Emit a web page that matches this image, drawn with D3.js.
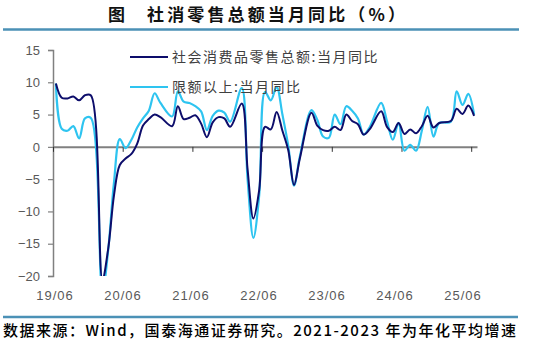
<!DOCTYPE html>
<html><head><meta charset="utf-8">
<script src="https://cdn.jsdelivr.net/npm/d3@7"></script>
<style>body{margin:0;background:#fff}svg{display:block}</style>
</head><body><svg id="c" width="535" height="348"></svg>
<script>
const months = [];
for (let y = 2019, m = 6; months.length < 73; ) { months.push(y + "-" + String(m).padStart(2, "0")); m++; if (m > 12) { m = 1; y++; } }
const seriesNames = ["社会消费品零售总额:当月同比", "限额以上:当月同比"];
const retailTotal = [
  9.8, 7.6, 7.5, 7.8, 7.2, 8.0, 8.0,
  null, -20.5, -15.8, -7.5, -2.8, -1.8, -1.1, 0.5, 3.3, 4.3, 5.0, 4.6,
  null, 3.2, 6.3, 4.3, 4.5, 4.9, 3.6, 1.5, 3.8, 4.6, 4.4, 3.1,
  null, 6.7, -3.5, -11.1, -6.7, 3.1, 2.7, 5.4, 2.5, -0.5, -5.9, -1.8,
  null, 5.3, 3.3, 2.6, 2.5, 3.1, 2.6, 5.0, 4.0, 3.5, 1.9, 2.7,
  null, 5.5, 3.1, 2.3, 3.7, 2.0, 2.7, 2.1, 3.2, 4.8, 3.0, 3.7,
  null, 4.0, 5.9, 5.1, 6.4, 4.8
];
const aboveLimit = [
  9.8, 2.8, 2.5, 3.2, 1.3, 4.4, 4.5,
  null, -22.5, -16.0, -5.5, 1.2, -0.2, 1.1, 3.0, 4.4, 5.6, 8.3, 6.8,
  null, 4.7, 8.6, 7.0, 6.8, 6.3, 5.5, 2.6, 4.8, 5.6, 5.3, 3.9,
  null, 9.1, -5.0, -14.1, -7.5, 8.5, 7.2, 9.3, 5.0, 0.2, -6.0, -1.5,
  null, 5.7, 4.2, 1.6, 1.4, 5.0, 3.5, 6.3, 5.6, 4.4, 1.9, 3.0,
  null, 6.8, 4.0, 1.1, 3.7, -0.6, 0.3, -0.6, 2.5, 6.2, 1.6, 3.7,
  null, 3.9, 8.6, 6.5, 8.2, 5.0
];
const yTicks = [15, 10, 5, 0, -5, -10, -15, -20];
const xTickLabels = ["19/06", "20/06", "21/06", "22/06", "23/06", "24/06", "25/06"];
const titleText = "社消零售总额当月同比（%）";
const sourceText = "数据来源：Wind，国泰海通证券研究。2021-2023 年为年化平均增速";

const svg = d3.select("#c");
const x = d3.scaleLinear().domain([0, months.length]).range([53, 477]);
const y = d3.scaleLinear().domain([-20, 15]).range([276, 50]);
const xLab = d3.scaleLinear().domain([0, 72]).range([55, 463]);
const blue = "#4b91b6";
const cDark = "#0d0d6b", cLight = "#2ec4f0";

// title
svg.append("text").attr("x", 108).attr("y", 21).text("图")
  .attr("font-family", "Noto Sans CJK SC").attr("font-weight", 700).attr("font-size", 17).attr("fill", "#111");
svg.append("text").attr("x", 147).attr("y", 21).text(titleText)
  .attr("font-family", "Noto Sans CJK SC").attr("font-weight", 700).attr("font-size", 17).attr("fill", "#111")
  .attr("textLength", 258).attr("lengthAdjust", "spacing");
svg.append("line").attr("x1", 3).attr("x2", 519).attr("y1", 29.5).attr("y2", 29.5).attr("stroke", blue).attr("stroke-width", 2.5);
svg.append("line").attr("x1", 3).attr("x2", 518).attr("y1", 317).attr("y2", 317).attr("stroke", blue).attr("stroke-width", 2.5);
svg.append("text").attr("x", 3).attr("y", 336).text(sourceText)
  .attr("font-family", "Noto Sans CJK SC").attr("font-weight", 500).attr("font-size", 15).attr("fill", "#000")
  .attr("textLength", 513).attr("lengthAdjust", "spacing");

// y axis
const yAx = svg.append("g").attr("transform", "translate(53,0)")
  .call(d3.axisLeft(y).tickValues(yTicks).tickSize(5).tickPadding(8).tickFormat(d3.format("d")));
yAx.select(".domain").attr("stroke", "#808080").attr("stroke-width", 1.5);
yAx.selectAll(".tick line").attr("stroke", "#808080").attr("stroke-width", 1.2);
yAx.selectAll("text").attr("font-family", "Liberation Sans, Arial").attr("font-size", 13).attr("fill", "#595959");

// x axis at zero
const xAx = svg.append("g").attr("transform", `translate(0,${y(0)})`)
  .call(d3.axisBottom(x).tickValues(d3.range(0, 73, 12)).tickSize(5).tickSizeOuter(0).tickFormat(""));
xAx.select(".domain").attr("stroke", "#808080").attr("stroke-width", 2);
xAx.selectAll(".tick line").attr("stroke", "#333").attr("stroke-width", 1);

svg.append("g").selectAll("text").data(xTickLabels).join("text")
  .attr("x", (d, i) => xLab(i * 12)).attr("y", 300).attr("text-anchor", "middle")
  .attr("font-family", "Liberation Sans, Arial").attr("font-size", 13).attr("letter-spacing", 1).attr("fill", "#595959")
  .text(d => d);

// clip
svg.append("clipPath").attr("id", "pc").append("rect")
  .attr("x", x(0)).attr("y", y(15) - 2).attr("width", x(73) - x(0) + 4).attr("height", y(-20) - y(15) + 2);

const line = d3.line().x(d => x(d.i + 0.5)).y(d => y(d.v)).curve(d3.curveCatmullRom.alpha(0.5));
function pts(arr) { return arr.map((v, i) => ({ i, v })).filter(d => d.v !== null); }
const g = svg.append("g").attr("clip-path", "url(#pc)");
g.append("path").attr("d", line(pts(aboveLimit))).attr("fill", "none").attr("stroke", cLight).attr("stroke-width", 2.2);
g.append("path").attr("d", line(pts(retailTotal))).attr("fill", "none").attr("stroke", cDark).attr("stroke-width", 2);

// legend
const leg = [{ n: seriesNames[0], c: cDark, y: 57 }, { n: seriesNames[1], c: cLight, y: 87 }];
const lg = svg.append("g");
leg.forEach(d => {
  lg.append("line").attr("x1", 130).attr("x2", 168).attr("y1", d.y).attr("y2", d.y).attr("stroke", d.c).attr("stroke-width", 2.2);
  lg.append("text").attr("x", 172).attr("y", d.y + 5).text(d.n)
    .attr("font-family", "Noto Sans CJK SC").attr("font-size", 14).attr("letter-spacing", 1.5).attr("fill", "#404040");
});
</script></body></html>
